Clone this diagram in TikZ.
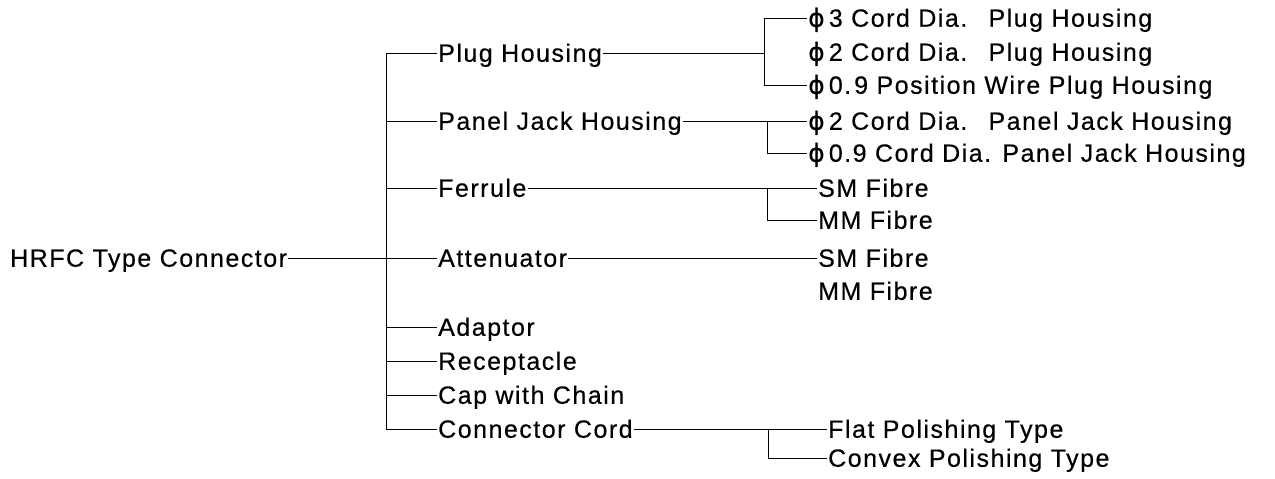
\documentclass[tikz,border=0pt]{standalone}
\usepackage{fontspec}
\setmainfont{Liberation Sans}[LetterSpace=6,FakeBold=0.4]
\newfontfamily\phifont{DejaVu Sans}[FakeBold=0.4]
\newcommand{\dia}{{\phifont ϕ}\,}
\begin{document}
\begin{tikzpicture}[x=1pt,y=-1pt,
  lbl/.style={anchor=west, inner xsep=1pt, inner ysep=0pt, text height=17.5pt, text depth=0pt, font=\fontsize{25}{29}\selectfont},
  conn/.style={line width=1pt, black}]
\useasboundingbox (0,0) rectangle (1275,479);
% root
\node[lbl] (root) at (9,258) {HRFC Type Connector};
% level 1
\node[lbl] (ph)  at (437,53)  {Plug Housing};
\node[lbl] (pjh) at (437,121) {Panel Jack Housing};
\node[lbl] (fer) at (437,188) {Ferrule};
\node[lbl] (att) at (437,258) {Attenuator};
\node[lbl] (ada) at (437,327) {Adaptor};
\node[lbl] (rec) at (437,361) {Receptacle};
\node[lbl] (cap) at (437,395) {Cap with Chain};
\node[lbl] (cc)  at (437,429) {Connector Cord};
% level 2
\node[lbl] (p1) at (807,18)  {\dia3 Cord Dia.\hspace{0.85em}Plug Housing};
\node[lbl] (p2) at (807,52)  {\dia2 Cord Dia.\hspace{0.85em}Plug Housing};
\node[lbl] (p3) at (807,85)  {\dia0.\hspace{0.12em}9 Position Wire Plug Housing};
\node[lbl] (j1) at (807,121) {\dia2 Cord Dia.\hspace{0.85em}Panel Jack Housing};
\node[lbl] (j2) at (807,153) {\dia0.9 Cord Dia. Panel Jack Housing};
\node[lbl] (f1) at (817,188) {SM Fibre};
\node[lbl] (f2) at (817,220) {MM Fibre};
\node[lbl] (a1) at (817,258) {SM Fibre};
\node[lbl] (a2) at (817,291) {MM Fibre};
\node[lbl] (c1) at (827,429) {Flat Polishing Type};
\node[lbl] (c2) at (827,458) {Convex Polishing Type};
% junction coordinates
\coordinate (tr) at (386,0);
\coordinate (pv) at (764,0);
\coordinate (jv) at (767,0);
\coordinate (fv) at (767,0);
\coordinate (cv) at (768,0);
% root and trunk
\draw[conn] (root.east) -- (att.west);
\draw[conn] (tr |- ph.west) -- (tr |- cc.west);
\foreach \n in {ph,pjh,fer,ada,rec,cap,cc}
  \draw[conn] (tr |- \n.west) -- (\n.west);
% plug housing
\draw[conn] (ph.east) -- (pv |- ph.west);
\draw[conn] (p1.west) -- (pv |- p1.west) -- (pv |- p3.west) -- (p3.west);
% panel jack
\draw[conn] (pjh.east) -- (j1.west);
\draw[conn] (jv |- pjh.west) -- (jv |- j2.west) -- (j2.west);
% ferrule
\draw[conn] (fer.east) -- (f1.west);
\draw[conn] (fv |- fer.west) -- (fv |- f2.west) -- (f2.west);
% attenuator
\draw[conn] (att.east) -- (a1.west);
% connector cord
\draw[conn] (cc.east) -- (c1.west);
\draw[conn] (cv |- cc.west) -- (cv |- c2.west) -- (c2.west);
\end{tikzpicture}
\end{document}
